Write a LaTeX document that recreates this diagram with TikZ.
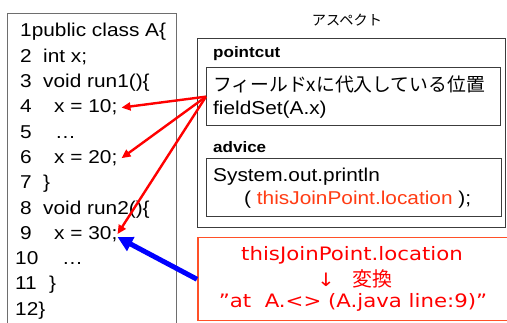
\documentclass[tikz,border=0pt]{standalone}
\usepackage{fontspec}
\setmainfont{Liberation Sans}[FakeStretch=1.12]
\newfontfamily\jpfont{Noto Sans CJK JP}
\newfontfamily\dvfont{DejaVu Sans}[FakeStretch=1.15]
\usetikzlibrary{arrows.meta}

\definecolor{advred}{RGB}{255,60,20}
\definecolor{boxred}{RGB}{255,80,40}
\definecolor{framegray}{RGB}{110,110,110}
\definecolor{framedark}{RGB}{60,60,60}
\definecolor{arrowblue}{RGB}{0,0,255}

\tikzset{
  code/.style={anchor=base west, inner sep=0pt, font=\fontsize{18.6}{22}\selectfont},
  lbl/.style={anchor=base west, inner sep=0pt, font=\fontsize{15.2}{18}\selectfont\bfseries},
  jptext/.style={anchor=base west, inner sep=0pt, font=\jpfont\fontsize{18.8}{22}\selectfont},
  rtext/.style={anchor=base, inner sep=0pt, text=red, font=\dvfont\fontsize{18.5}{22}\selectfont},
  frame/.style={draw=framedark, line width=1.3pt, anchor=north west, inner sep=0pt},
  redarrow/.style={draw=red, line width=2.4pt, -{Triangle[length=9pt,width=8pt]}},
  bluearrow/.style={draw=arrowblue, line width=5pt, -{Triangle[length=15pt,width=15pt]}}
}

\begin{document}
\begin{tikzpicture}[x=1pt,y=-1pt]
\useasboundingbox (0,0) rectangle (507,323);
\clip (0,0) rectangle (507,323);
\fill[white] (0,0) rectangle (507,323);

% source listing of class A
\node[draw=framegray, line width=1.2pt, anchor=north west, inner sep=0pt,
      minimum width=169pt, minimum height=330pt] (src) at (7,13) {};
\node[code] (c1) at (20,37) {1public class A\{};
\node[code] (n2) at (20,62.3) {2};   \node[code] (c2) at (43,62.3) {int x;};
\node[code] (n3) at (20,87.6) {3};   \node[code] (c3) at (43,87.6) {void run1()\{};
\node[code] (n4) at (20,112.9) {4};  \node[code] (c4) at (54,112.9) {x = 10;};
\node[code] (n5) at (20,138.2) {5};  \node[code] (c5) at (55,138.2) {…};
\node[code] (n6) at (20,163.5) {6};  \node[code] (c6) at (54,163.5) {x = 20;};
\node[code] (n7) at (20,188.8) {7};  \node[code] (c7) at (43,188.8) {\}};
\node[code] (n8) at (20,214.1) {8};  \node[code] (c8) at (43,214.1) {void run2()\{};
\node[code] (n9) at (20,239.4) {9};  \node[code] (c9) at (54,239.4) {x = 30;};
\node[code] (n10) at (15,264.7) {10}; \node[code] (c10) at (62,264.7) {…};
\node[code] (n11) at (15,290) {11};  \node[code] (c11) at (49,290) {\}};
\node[code] (c12) at (15,315.3) {12\}};

% aspect
\node[anchor=base, inner sep=0pt, font=\jpfont\fontsize{14.2}{16}\selectfont] (title) at (347,26) {アスペクト};
\node[frame, minimum width=308pt, minimum height=189pt] (aspect) at (197,38) {};

\node[lbl] (pclbl) at (213,58) {pointcut};
\node[frame, minimum width=294pt, minimum height=58pt] (pc) at (206,67) {};
\node[jptext] (pc1) at (213,92) {フィールドxに代入している位置};
\node[code] (pc2) at (213,115) {fieldSet(A.x)};

\node[lbl] (advlbl) at (213,153) {advice};
\node[frame, minimum width=295pt, minimum height=58pt] (adv) at (206,158) {};
\node[code] (adv1) at (213,182) {System.out.println};
\node[code] (adv2) at (244,205) {( \textcolor{advred}{thisJoinPoint.location} );};

% conversion note
\node[draw=boxred, line width=1.5pt, anchor=north west, inner sep=0pt,
      minimum width=320pt, minimum height=83pt] (note) at (197,237) {};
\node[rtext] (r1) at (352,261) {thisJoinPoint.location};
\node[rtext] (r2a) at (326,287) {↓};
\node[anchor=base west, inner sep=0pt, text=red, font=\jpfont\fontsize{20}{22}\selectfont] (r2b) at (352,287) {変換};
\node[rtext] (r3) at (353,308) {”at\ \ A.<> (A.java line:9)”};

% join points selected by the pointcut
\draw[redarrow] (pc.west) -- ([xshift=4pt]c4.east);
\draw[redarrow] (pc.west) -- ([xshift=4pt]c6.east);
\draw[redarrow] (pc.west) -- (c9.east);
\draw[bluearrow] (note.west) -- ([yshift=-3pt]c9.east);
\end{tikzpicture}
\end{document}
